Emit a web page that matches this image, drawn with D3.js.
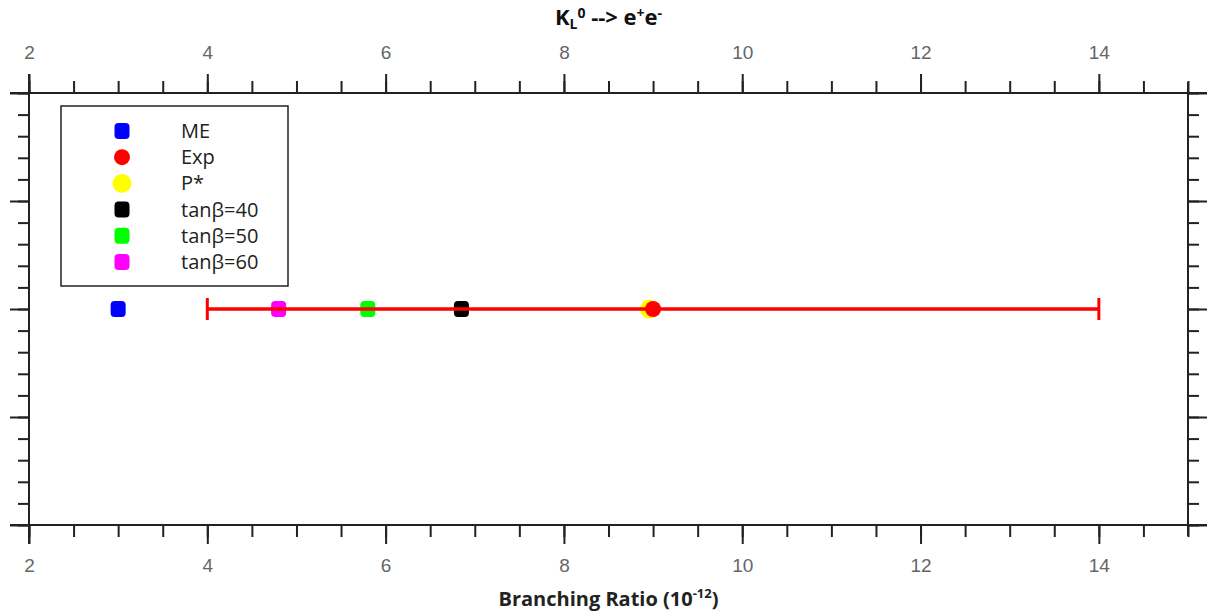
<!DOCTYPE html>
<html>
<head>
<meta charset="utf-8">
<script src="https://cdn.jsdelivr.net/npm/d3@7"></script>
<style>
  body { margin: 0; background: #fff; }
  svg { font-family: "Open Sans", "DejaVu Sans", sans-serif; }
</style>
</head>
<body>
<svg id="chart" width="1217" height="614"></svg>
<script>
// chart data
const series = ["ME", "Exp", "P*", "tanβ=40", "tanβ=50", "tanβ=60"];
const values = [3.0, 9.0, 8.96, 6.85, 5.8, 4.8];
const colors = ["#0000ff", "#ff0000", "#ffff00", "#000000", "#00ff00", "#ff00ff"];
const expRange = [4, 14];
const xMajor = [2, 4, 6, 8, 10, 12, 14];
const xDomain = [2, 15];
const yDomain = [0, 4];
const yLevel = 2;

let svg = d3.select("#chart"),
  width = +svg.attr("width"),
  height = +svg.attr("height");

const margin = {left: 29, right: 29, top: 93, bottom: 89};

const x = d3.scaleLinear().domain(xDomain).range([margin.left, width - margin.right]);
const y = d3.scaleLinear().domain(yDomain).range([height - margin.bottom, margin.top]);

const xMinor = d3.range(xDomain[0], xDomain[1] + 0.001, 0.5);
const yMinor = d3.range(yDomain[0], yDomain[1] + 0.001, 0.2);
const yMajor = d3.range(yDomain[0], yDomain[1] + 0.001, 1);

function styleAxis(g) {
  g.select(".domain").remove();
  g.selectAll(".tick line").attr("stroke", "#222").attr("stroke-width", 2);
  g.selectAll(".tick text")
    .attr("fill", "#666")
    .style("font-size", "19px");
}

const x0 = x.range()[0], x1 = x.range()[1];
const y0 = y.range()[1], y1 = y.range()[0];

// bottom axis
svg.append("g").attr("transform", `translate(0,${y1})`)
  .call(d3.axisBottom(x).tickValues(xMinor).tickSize(12).tickFormat(""))
  .call(styleAxis);
svg.append("g").attr("transform", `translate(0,${y1})`)
  .call(d3.axisBottom(x).tickValues(xMajor).tickSize(19).tickPadding(15).tickFormat(d3.format("d")))
  .call(styleAxis);

// top axis
svg.append("g").attr("transform", `translate(0,${y0})`)
  .call(d3.axisTop(x).tickValues(xMinor).tickSize(12).tickFormat(""))
  .call(styleAxis);
svg.append("g").attr("transform", `translate(0,${y0})`)
  .call(d3.axisTop(x).tickValues(xMajor).tickSize(19).tickPadding(15).tickFormat(d3.format("d")))
  .call(styleAxis);

// left / right axes, no labels
[[d3.axisLeft, x0], [d3.axisRight, x1]].forEach(([ax, px]) => {
  svg.append("g").attr("transform", `translate(${px},0)`)
    .call(ax(y).tickValues(yMinor).tickSize(11).tickFormat(""))
    .call(styleAxis);
  svg.append("g").attr("transform", `translate(${px},0)`)
    .call(ax(y).tickValues(yMajor).tickSize(19).tickFormat(""))
    .call(styleAxis);
});

// frame lines, a bit longer than the plot box
const frame = svg.append("g").attr("stroke", "#222").attr("stroke-width", 2);
frame.append("line").attr("x1", x0 - 19).attr("x2", x1 + 19).attr("y1", y0).attr("y2", y0);
frame.append("line").attr("x1", x0 - 19).attr("x2", x1 + 19).attr("y1", y1).attr("y2", y1);
frame.append("line").attr("x1", x0).attr("x2", x0).attr("y1", y0 - 19).attr("y2", y1 + 19);
frame.append("line").attr("x1", x1).attr("x2", x1).attr("y1", y0 - 11).attr("y2", y1 + 11);

// marker drawing
function marker(g, name, cx, cy, color) {
  if (name === "Exp") {
    g.append("circle").attr("cx", cx).attr("cy", cy).attr("r", 8).attr("fill", color);
  } else if (name === "P*") {
    g.append("circle").attr("cx", cx).attr("cy", cy).attr("r", 9.5).attr("fill", color);
  } else {
    g.append("rect").attr("x", cx - 7.5).attr("y", cy - 8).attr("width", 15).attr("height", 16)
      .attr("rx", 4).attr("fill", color);
  }
}

const pts = svg.append("g");
const order = [0, 2, 3, 4, 5];
order.forEach(i => marker(pts, series[i], x(values[i]), y(yLevel), colors[i]));

// experimental error bar
const eb = svg.append("g").attr("stroke", colors[1]);
eb.append("line")
  .attr("x1", x(expRange[0])).attr("x2", x(expRange[1]))
  .attr("y1", y(yLevel)).attr("y2", y(yLevel))
  .attr("stroke-width", 3.5);
expRange.forEach(v => {
  eb.append("line")
    .attr("x1", x(v)).attr("x2", x(v))
    .attr("y1", y(yLevel) - 11).attr("y2", y(yLevel) + 11)
    .attr("stroke-width", 3);
});
const expLayer = svg.append("g");
marker(expLayer, series[1], x(values[1]), y(yLevel), colors[1]);

// legend
const legend = svg.append("g");
legend.append("rect")
  .attr("x", 61).attr("y", 106).attr("width", 227).attr("height", 180)
  .attr("fill", "#fff").attr("stroke", "#222").attr("stroke-width", 1.5);
series.forEach((s, i) => {
  const ly = 131 + i * 26.2;
  marker(legend, s, 122, ly, colors[i]);
  legend.append("text")
    .attr("x", 181).attr("y", ly + 7)
    .attr("fill", "#222")
    .style("font-size", "20px")
    .text(s);
});

// title
const title = svg.append("text")
  .attr("x", width / 2).attr("y", 25)
  .attr("text-anchor", "middle")
  .attr("fill", "#111")
  .style("font-size", "22px").style("font-weight", "bold");
title.append("tspan").text("K");
title.append("tspan").attr("dy", 4).style("font-size", "14px").text("L");
title.append("tspan").attr("dy", -11).style("font-size", "14px").text("0");
title.append("tspan").attr("dy", 7).text(" --> e");
title.append("tspan").attr("dy", -7).style("font-size", "14px").text("+");
title.append("tspan").attr("dy", 7).text("e");
title.append("tspan").attr("dy", -7).style("font-size", "14px").text("-");

// x axis label
const xl = svg.append("text")
  .attr("x", width / 2).attr("y", 606)
  .attr("text-anchor", "middle")
  .attr("fill", "#222")
  .style("font-size", "20px").style("font-weight", "bold");
xl.append("tspan").text("Branching Ratio (10");
xl.append("tspan").attr("dy", -8).style("font-size", "13px").text("-12");
xl.append("tspan").attr("dy", 8).text(")");
</script>
</body>
</html>
